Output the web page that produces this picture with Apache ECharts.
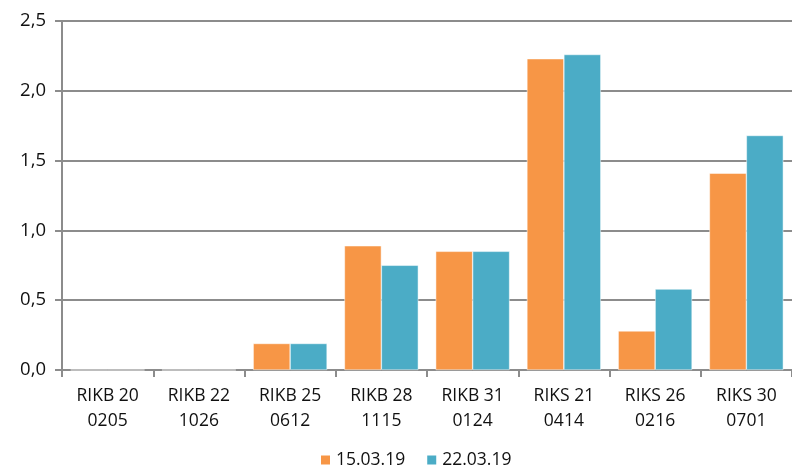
<!DOCTYPE html>
<html>
<head>
<meta charset="utf-8">
<script src="https://cdn.jsdelivr.net/npm/echarts@6/dist/echarts.min.js"></script>
<style>
  html, body { margin: 0; padding: 0; background: #fff; }
  #chart { width: 792px; height: 474px; }
</style>
</head>
<body>
<div id="chart"></div>
<script>
// bonds
var categories = ['RIKB 20\n0205', 'RIKB 22\n1026', 'RIKB 25\n0612', 'RIKB 28\n1115',
  'RIKB 31\n0124', 'RIKS 21\n0414', 'RIKS 26\n0216', 'RIKS 30\n0701']
var seriesNames = ['15.03.19', '22.03.19']
var values1503 = [0, 0, 0.19, 0.89, 0.85, 2.23, 0.28, 1.41]
var values2203 = [0, 0, 0.19, 0.75, 0.85, 2.26, 0.58, 1.68]

var font = 'Open Sans'
var chart = echarts.init(document.getElementById('chart'))

chart.setOption({
  animation: false,
  textStyle: { fontFamily: font },
  grid: {
    left: 62,
    right: -3,
    top: 21,
    bottom: 104
  },
  legend: {
    data: seriesNames,
    bottom: 0,
    left: 314,
    itemWidth: 11,
    itemHeight: 11,
    itemGap: 20,
    icon: 'rect',
    textStyle: { fontSize: 17.5, color: '#111', fontFamily: font }
  },
  xAxis: {
    type: 'category',
    data: categories,
    axisLine: { lineStyle: { color: '#8c8c8c', width: 2 } },
    axisTick: { show: true, length: 7, lineStyle: { color: '#8c8c8c', width: 2 } },
    axisLabel: {
      color: '#111',
      fontSize: 17.5,
      lineHeight: 25,
      margin: 14
    }
  },
  yAxis: {
    type: 'value',
    min: 0,
    max: 2.5,
    interval: 0.5,
    axisLine: { show: true, lineStyle: { color: '#8c8c8c', width: 2 } },
    axisTick: { show: true, length: 7, lineStyle: { color: '#8c8c8c', width: 2 } },
    splitLine: { lineStyle: { color: '#8c8c8c', width: 2 } },
    axisLabel: {
      color: '#111',
      fontSize: 18.5,
      margin: 16,
      formatter: function (v) { return v.toFixed(1).replace('.', ',') }
    }
  },
  series: [
    {
      name: seriesNames[0],
      type: 'bar',
      data: values1503,
      barGap: '0%',
      barCategoryGap: '19%',
      itemStyle: { color: '#F79646', borderColor: '#fff', borderWidth: 0.5 }
    },
    {
      name: seriesNames[1],
      type: 'bar',
      data: values2203,
      barGap: '0%',
      barCategoryGap: '19%',
      itemStyle: { color: '#4BACC6', borderColor: '#fff', borderWidth: 0.5 }
    }
  ]
})
</script>
</body>
</html>
